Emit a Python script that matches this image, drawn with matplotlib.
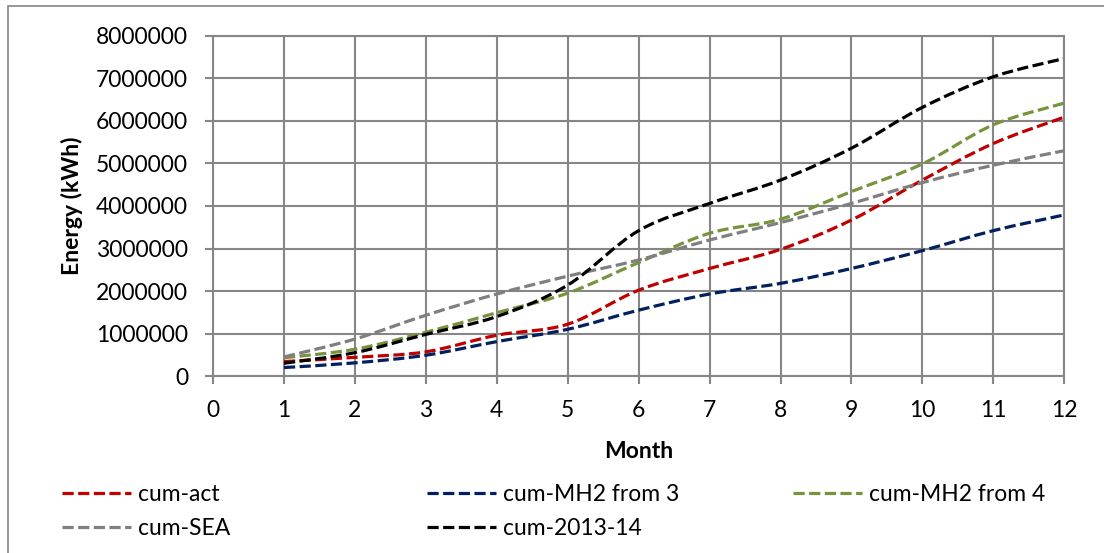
import numpy as np
import matplotlib.pyplot as plt
from matplotlib.path import Path
from matplotlib.patches import PathPatch, Rectangle
from matplotlib.lines import Line2D

plt.rcParams['font.family'] = ['Lato', 'DejaVu Sans']

months = [1, 2, 3, 4, 5, 6, 7, 8, 9, 10, 11, 12]
cum_act = [340000, 440000, 570000, 960000, 1220000, 2020000, 2530000, 2980000, 3670000, 4610000, 5470000, 6090000]
cum_mh2_3 = [200000, 310000, 490000, 810000, 1100000, 1550000, 1930000, 2180000, 2530000, 2950000, 3420000, 3790000]
cum_mh2_4 = [430000, 630000, 1030000, 1490000, 1950000, 2670000, 3360000, 3690000, 4340000, 4990000, 5910000, 6420000]
cum_sea = [450000, 870000, 1430000, 1930000, 2350000, 2730000, 3200000, 3610000, 4060000, 4550000, 4960000, 5300000]
cum_1314 = [300000, 550000, 980000, 1400000, 2140000, 3420000, 4060000, 4610000, 5360000, 6320000, 7040000, 7470000]

series = [
    ('cum-act', cum_act, '#C00000'),
    ('cum-MH2 from 3', cum_mh2_3, '#002060'),
    ('cum-MH2 from 4', cum_mh2_4, '#77933C'),
    ('cum-SEA', cum_sea, '#7F7F7F'),
    ('cum-2013-14', cum_1314, '#000000'),
]

grid_col = '#868686'
dash = (3.5, 1.4)
lw = 2.3
fs = 16.5


def smooth_path(x, y):
    # Bezier curve through the points, like the smoothed lines in Excel
    p = np.column_stack([x, y]).astype(float)
    verts = [p[0]]
    codes = [Path.MOVETO]
    n = len(p)
    for i in range(n - 1):
        p0 = p[i - 1] if i > 0 else p[i]
        p3 = p[i + 2] if i + 2 < n else p[i + 1]
        c1 = p[i] + (p[i + 1] - p0) / 6
        c2 = p[i + 1] - (p3 - p[i]) / 6
        verts += [c1, c2, p[i + 1]]
        codes += [Path.CURVE4] * 3
    return Path(verts, codes)


fig = plt.figure(figsize=(11.04, 5.53), dpi=100)
ax = fig.add_axes([0.193, 0.32, 0.771, 0.615])

handles = {}
for name, vals, col in series:
    patch = PathPatch(smooth_path(months, vals), fill=False, edgecolor=col,
                      linewidth=lw, linestyle=(0, dash), capstyle='butt')
    ax.add_patch(patch)
    handles[name] = Line2D([], [], color=col, linewidth=lw, linestyle=(0, dash))

ax.set_xlim(0, 12)
ax.set_ylim(0, 8000000)
ax.set_xticks(range(0, 13))
ax.set_yticks(range(0, 8000001, 1000000))
ax.set_yticklabels([str(v) for v in range(0, 8000001, 1000000)])
ax.grid(True, color=grid_col, linewidth=1.5)
ax.set_axisbelow(True)
for s in ax.spines.values():
    s.set_color(grid_col)
    s.set_linewidth(1.5)
ax.tick_params(axis='both', colors=grid_col, labelcolor='black', labelsize=fs,
               length=6, width=1.5, direction='out')
ax.tick_params(axis='y', pad=12)
ax.tick_params(axis='x', pad=11)

ax.set_xlabel('Month', fontsize=fs, fontweight='bold', va='center')
ax.xaxis.set_label_coords(0.5006, -0.2206)
ax.set_ylabel('Energy (kWh)', fontsize=fs, fontweight='bold', va='center')
ax.yaxis.set_label_coords(-0.1657, 0.5)

legend_top = 1 - 484 / 553
cols = [
    (['cum-act', 'cum-SEA'], 62 / 1104),
    (['cum-MH2 from 3', 'cum-2013-14'], 427 / 1104),
    (['cum-MH2 from 4'], 793 / 1104),
]
for names, xpos in cols:
    fig.legend([handles[n] for n in names], names, loc='upper left',
               bbox_to_anchor=(xpos, legend_top), frameon=False, fontsize=fs,
               handlelength=3.0, handletextpad=0.3, labelspacing=0.55,
               borderaxespad=0, borderpad=0)

fig.add_artist(Rectangle((8 / 1104, -0.1), 1.2, 1.1 - 6 / 553, transform=fig.transFigure,
                         fill=False, edgecolor=grid_col, linewidth=1.2))

fig.savefig('out.png', dpi=100)
